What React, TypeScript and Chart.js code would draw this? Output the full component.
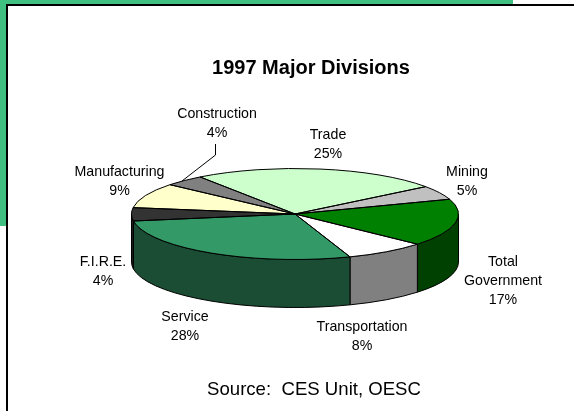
import React, { useEffect, useRef } from "react";
import { Chart, registerables } from "chart.js";

Chart.register(...registerables);

const categories = ["Trade", "Mining", "Total Government", "Transportation", "Service", "F.I.R.E.", "Manufacturing", "Construction"];
const shares = [24.6, 5, 16.8, 8, 28, 4.7, 8.9, 4];
const topColors = ["#CCFFCC", "#C0C0C0", "#008000", "#FFFFFF", "#339966", "#333333", "#FFFFCC", "#808080"];
const wallColors = ["#668066", "#606060", "#004000", "#808080", "#1A4D33", "#1A1A1A", "#808066", "#404040"];
const labelLines: [string[], number, number][] = [
  [["Trade", "25%"], 328, 139],
  [["Mining", "5%"], 467, 176],
  [["Total", "Government", "17%"], 503, 266],
  [["Transportation", "8%"], 362, 331],
  [["Service", "28%"], 185, 321],
  [["F.I.R.E.", "4%"], 103, 266],
  [["Manufacturing", "9%"], 119.5, 176],
  [["Construction", "4%"], 217, 118],
];
const titleText = "1997 Major Divisions";
const sourceText = "Source:  CES Unit, OESC";
const rotationDeg = -35.5;
const TILT = 45.5 / 163.5;
const DEPTH = 48;
const FONT = '"Liberation Sans", Arial, sans-serif';

const pie3d = {
  id: "pie3d",
  beforeDatasetsDraw(chart: any) {
    const { ctx } = chart;
    const arcs = chart.getDatasetMeta(0).data;
    const cx = arcs[0].x, cy = arcs[0].y, R = arcs[0].outerRadius, r = R * TILT;
    ctx.save();
    ctx.fillStyle = "#40C080";
    ctx.fillRect(0, 0, 513, 226);
    ctx.fillStyle = "#FFFFFF";
    ctx.fillRect(6, 4, 568, 407);
    ctx.fillStyle = "#000000";
    ctx.fillRect(6, 4, 568, 2);
    ctx.fillRect(6, 4, 2, 407);
    ctx.restore();
    ctx.save();
    ctx.strokeStyle = "#000";
    ctx.lineWidth = 1;
    arcs.forEach((a: any, i: number) => {
      const ranges = [[0, Math.PI], [2 * Math.PI, 3 * Math.PI], [-2 * Math.PI, -Math.PI]];
      ranges.forEach(([lo, hi]) => {
        const a0 = Math.max(a.startAngle, lo), a1 = Math.min(a.endAngle, hi);
        if (a1 <= a0) return;
        ctx.beginPath();
        ctx.ellipse(cx, cy, R, r, 0, a0, a1);
        ctx.ellipse(cx, cy + DEPTH, R, r, 0, a1, a0, true);
        ctx.closePath();
        ctx.fillStyle = wallColors[i];
        ctx.fill();
        ctx.stroke();
      });
    });
    ctx.restore();
    ctx.save();
    ctx.translate(0, cy);
    ctx.scale(1, TILT);
    ctx.translate(0, -cy);
  },
  afterDatasetsDraw(chart: any) {
    const { ctx } = chart;
    ctx.restore();
    const arcs = chart.getDatasetMeta(0).data;
    const cx = arcs[0].x, cy = arcs[0].y, R = arcs[0].outerRadius, r = R * TILT;
    ctx.save();
    ctx.strokeStyle = "#000";
    ctx.lineWidth = 1;
    arcs.forEach((a: any) => {
      ctx.beginPath();
      ctx.moveTo(cx, cy);
      ctx.ellipse(cx, cy, R, r, 0, a.startAngle, a.endAngle);
      ctx.closePath();
      ctx.stroke();
    });
    ctx.beginPath();
    ctx.moveTo(215.5, 144);
    ctx.lineTo(215.5, 155);
    ctx.lineTo(182, 181);
    ctx.stroke();
    ctx.fillStyle = "#000";
    ctx.textAlign = "center";
    ctx.textBaseline = "alphabetic";
    ctx.font = `bold 20px ${FONT}`;
    ctx.fillText(titleText, 311, 74);
    ctx.font = `14.2px ${FONT}`;
    labelLines.forEach(([lines, x, y]) => {
      lines.forEach((t, k) => ctx.fillText(t, x, y + k * 19));
    });
    ctx.font = `18.6px ${FONT}`;
    ctx.fillText(sourceText, 314, 395);
    ctx.restore();
  },
};

export default function App() {
  const ref = useRef<HTMLCanvasElement>(null);
  useEffect(() => {
    const chart = new Chart(ref.current!, {
      type: "pie",
      data: {
        labels: categories,
        datasets: [{ data: shares, backgroundColor: topColors, borderWidth: 0 }],
      },
      options: {
        animation: false,
        responsive: false,
        rotation: rotationDeg,
        layout: { padding: { left: 131.5, right: 115.5, top: 50.5, bottom: 33.5 } },
        plugins: { legend: { display: false }, title: { display: false }, tooltip: { enabled: false } },
      },
      plugins: [pie3d],
    });
    return () => chart.destroy();
  }, []);
  return (
    <div style={{ position: "absolute", left: 0, top: 0, width: 574, height: 411 }}>
      <canvas ref={ref} width={574} height={411} style={{ display: "block" }} />
    </div>
  );
}
